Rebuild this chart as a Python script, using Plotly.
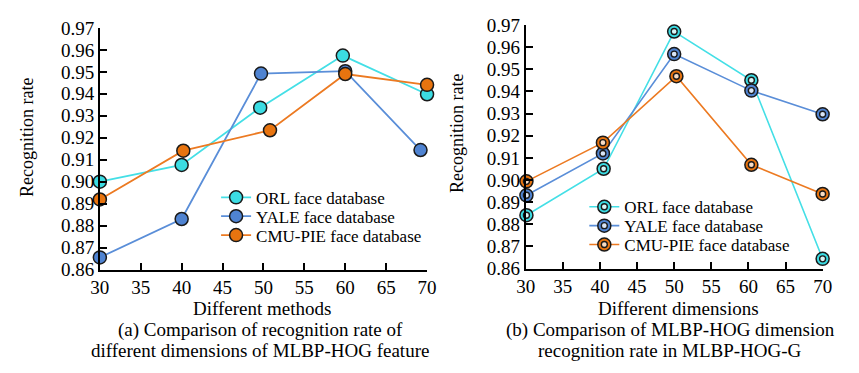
import plotly.graph_objects as go

# ---- data -------------------------------------------------------------
series_names = ["ORL face database", "YALE face database", "CMU-PIE face database"]

# (a) recognition rate vs. feature dimension of MLBP-HOG
a_orl_x = [30, 40, 49.6, 59.7, 70]
a_orl_y = [0.9000, 0.9076, 0.9337, 0.9574, 0.9398]
a_yale_x = [30, 40, 49.7, 60, 69.2]
a_yale_y = [0.8655, 0.8830, 0.9492, 0.9503, 0.9144]
a_cmu_x = [30, 40.2, 50.8, 60, 70]
a_cmu_y = [0.8919, 0.9141, 0.9234, 0.9490, 0.9441]

# (b) recognition rate vs. dimension in MLBP-HOG-G
b_orl_x = [30.1, 40.5, 50, 60.4, 70]
b_orl_y = [0.8841, 0.9051, 0.9671, 0.9451, 0.8644]
b_yale_x = [30.1, 40.4, 50, 60.4, 70]
b_yale_y = [0.8931, 0.9120, 0.9569, 0.9404, 0.9297]
b_cmu_x = [30.1, 40.4, 50.3, 60.4, 70]
b_cmu_y = [0.8994, 0.9169, 0.9469, 0.9069, 0.8937]

x_ticks = [30, 35, 40, 45, 50, 55, 60, 65, 70]
y_ticks = [0.86, 0.87, 0.88, 0.89, 0.90, 0.91, 0.92, 0.93, 0.94, 0.95, 0.96, 0.97]

x_titles = ["Different methods", "Different dimensions"]
y_title = "Recognition rate"
captions_a = ["(a) Comparison of recognition rate of",
              "different dimensions of MLBP-HOG feature"]
captions_b = ["(b) Comparison of MLBP-HOG dimension",
              "recognition rate in MLBP-HOG-G"]

# ---- style ------------------------------------------------------------
FONT = "Liberation Serif"
line_colors = ["#44DFE6", "#5A8ED8", "#EC7A22"]
fill_colors = ["#3BDCE3", "#4F83D1", "#E8740F"]
inner_colors = ["#D8F7F8", "#D9E5F6", "#F8DCC4"]
EDGE = "#1a1a1a"
W, H = 859, 373

fig = go.Figure()

# panel (a): three legends, one row each
a_sets = [(a_orl_x, a_orl_y), (a_yale_x, a_yale_y), (a_cmu_x, a_cmu_y)]
for i, (xs, ys) in enumerate(a_sets):
    fig.add_trace(go.Scatter(
        x=xs, y=ys, name=series_names[i], mode="lines+markers",
        xaxis="x", yaxis="y", cliponaxis=False,
        line=dict(color=line_colors[i], width=1.8),
        marker=dict(size=13, color=fill_colors[i], line=dict(color=EDGE, width=1.5)),
        legend="legend" if i == 0 else f"legend{i + 1}",
    ))

# panel (b): markers carry a small inner ring
b_sets = [(b_orl_x, b_orl_y), (b_yale_x, b_yale_y), (b_cmu_x, b_cmu_y)]
for i, (xs, ys) in enumerate(b_sets):
    fig.add_trace(go.Scatter(
        x=xs, y=ys, name=series_names[i], mode="lines+markers",
        xaxis="x2", yaxis="y2", cliponaxis=False,
        line=dict(color=line_colors[i], width=1.6),
        marker=dict(size=13, color=fill_colors[i], line=dict(color=EDGE, width=1.5)),
        legend=f"legend{i + 4}",
    ))
for i, (xs, ys) in enumerate(b_sets):
    fig.add_trace(go.Scatter(
        x=xs, y=ys, name=series_names[i], mode="markers",
        xaxis="x2", yaxis="y2", cliponaxis=False,
        marker=dict(size=6, color=inner_colors[i], line=dict(color=EDGE, width=1.4)),
        legend=f"legend{i + 7}",
    ))

axis_common = dict(
    showline=True, linecolor="#000", linewidth=1.8, mirror=False,
    showgrid=False, zeroline=False,
    ticks="inside", ticklen=7, tickwidth=1.5, tickcolor="#000",
    tickfont=dict(family=FONT, size=19, color="#000"),
)
xaxis_common = dict(axis_common, range=[30, 70], tickvals=x_ticks)
# a little spacing after each y label keeps it clear of the inside ticks
yaxis_common = dict(axis_common, range=[0.86, 0.97], tickvals=y_ticks,
                    tickformat=".2f", ticksuffix="\u00a0\u2009")

def px_x(v):
    return v / W

def px_y(v):
    return 1 - v / H

layout = dict(
    width=W, height=H, margin=dict(l=0, r=0, t=0, b=0),
    paper_bgcolor="white", plot_bgcolor="white",
    font=dict(family=FONT, color="#000"),
    xaxis=dict(xaxis_common, domain=[px_x(92), px_x(427)], anchor="y"),
    yaxis=dict(yaxis_common, domain=[px_y(275), px_y(19)], anchor="x"),
    xaxis2=dict(xaxis_common, domain=[px_x(528), px_x(832)], anchor="y2"),
    yaxis2=dict(yaxis_common, domain=[px_y(274), px_y(16)], anchor="x2"),
    showlegend=True,
)

# legend rows: (legend key, left px, centre y px, text visible)
legend_rows = [
    ("legend", 211, 199, True), ("legend2", 211, 219, True), ("legend3", 211, 239, True),
    ("legend4", 588, 209, True), ("legend5", 588, 229, True), ("legend6", 588, 249, True),
    ("legend7", 588, 209, False), ("legend8", 588, 229, False), ("legend9", 588, 249, False),
]
for key, lx, ly, visible in legend_rows:
    layout[key] = dict(
        x=px_x(lx), y=px_y(ly), xanchor="left", yanchor="middle",
        bgcolor="rgba(0,0,0,0)", borderwidth=0,
        font=dict(family=FONT, size=17, color="#000" if visible else "rgba(0,0,0,0)"),
        itemclick=False, itemdoubleclick=False,
    )

fig.update_layout(**layout)

# axis titles
for text, cx in zip(x_titles, [258, 684]):
    fig.add_annotation(x=px_x(cx), y=px_y(316), xref="paper", yref="paper",
                       text=text, showarrow=False, xanchor="center", yanchor="middle",
                       font=dict(family=FONT, size=19, color="#000"))
for cx, cy in [(18, 135), (457, 131)]:
    fig.add_annotation(x=px_x(cx), y=px_y(cy), xref="paper", yref="paper",
                       text=y_title, textangle=-90, showarrow=False,
                       xanchor="center", yanchor="middle",
                       font=dict(family=FONT, size=18, color="#000"))

# two-line captions under each panel
for lines, cx in [(captions_a, 256), (captions_b, 676)]:
    for k, text in enumerate(lines):
        fig.add_annotation(
            x=px_x(cx), y=px_y(339 + 22 * k), xref="paper", yref="paper",
            text=text, showarrow=False, xanchor="center", yanchor="middle",
            font=dict(family=FONT, size=19, color="#000"),
        )

fig.write_html("out.html")
